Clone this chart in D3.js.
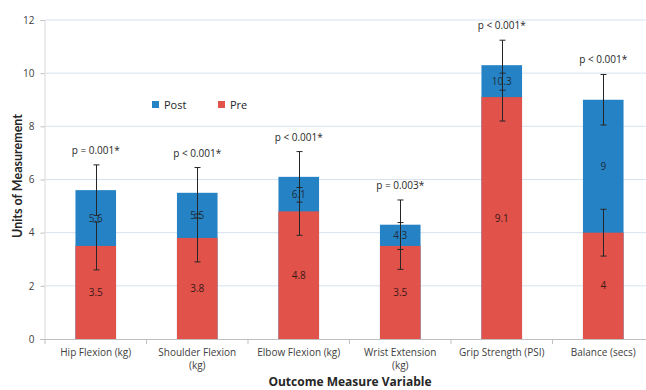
<!DOCTYPE html>
<html>
<head>
<meta charset="utf-8">
<script src="https://cdn.jsdelivr.net/npm/d3@7"></script>
<style>
  body { margin: 0; background: #fff; }
  text { font-family: "Open Sans", sans-serif; }
</style>
</head>
<body>
<div id="chart"></div>
<script>
// Chart data
const categories = ["Hip Flexion (kg)", "Shoulder Flexion (kg)", "Elbow Flexion (kg)", "Wrist Extension (kg)", "Grip Strength (PSI)", "Balance (secs)"];
const labelLines = [["Hip Flexion (kg)"], ["Shoulder Flexion", "(kg)"], ["Elbow Flexion (kg)"], ["Wrist Extension", "(kg)"], ["Grip Strength (PSI)"], ["Balance (secs)"]];
const preValues = [3.5, 3.8, 4.8, 3.5, 9.1, 4];
const postValues = [5.6, 5.5, 6.1, 4.3, 10.3, 9];
const preErrors = [0.9, 0.9, 0.9, 0.88, 0.9, 0.88];
const postErrors = [0.95, 0.95, 0.95, 0.93, 0.94, 0.95];
const pLabels = ["p = 0.001*", "p < 0.001*", "p < 0.001*", "p = 0.003*", "p < 0.001*", "p < 0.001*"];
const yTicks = [0, 2, 4, 6, 8, 10, 12];

const width = 646, height = 390;
const blue = "#2583c5", red = "#e0524a";

const svg = d3.select("#chart")
    .append("svg")
    .attr("width", width)
    .attr("height", height);

const x = d3.scaleBand()
    .domain(categories)
    .range([45, 654])
    .paddingInner(0.6)
    .paddingOuter(0.3);

const y = d3.scaleLinear()
    .domain([0, 12])
    .range([339, 20]);

// gridlines
svg.selectAll(".grid")
    .data(yTicks.filter(d => d > 0))
    .join("line")
    .attr("class", "grid")
    .attr("x1", 45)
    .attr("x2", 654)
    .attr("y1", d => y(d))
    .attr("y2", d => y(d))
    .style("stroke", "#d6e2f0")
    .style("stroke-width", 1);

// y axis
const yAxis = svg.append("g")
    .attr("transform", "translate(44.5,0)")
    .call(d3.axisLeft(y).tickValues(yTicks).tickSize(4).tickPadding(6));
yAxis.select(".domain").style("stroke", "#d9d9d9");
yAxis.selectAll(".tick line").style("stroke", "#bfbfbf");
yAxis.selectAll(".tick text")
    .style("font-size", "10px")
    .style("fill", "#404040")
    .style("font-family", "'Open Sans', sans-serif");

// x axis line and tick marks between bands
svg.append("line")
    .attr("x1", 40).attr("x2", 654)
    .attr("y1", 339.5).attr("y2", 339.5)
    .style("stroke", "#bfbfbf");

const step = x.step();
const firstEdge = Math.round(x(categories[0]) - x.paddingOuter() * step);
svg.selectAll(".xtick")
    .data(d3.range(categories.length + 1))
    .join("line")
    .attr("class", "xtick")
    .attr("x1", i => firstEdge + i * step)
    .attr("x2", i => firstEdge + i * step)
    .attr("y1", 339.5)
    .attr("y2", 344)
    .style("stroke", "#bfbfbf");

// post bars (behind), pre bars (front)
svg.selectAll(".post")
    .data(categories)
    .join("rect")
    .attr("class", "post")
    .attr("x", d => x(d))
    .attr("width", x.bandwidth())
    .attr("y", (d, i) => y(postValues[i]))
    .attr("height", (d, i) => y(0) - y(postValues[i]))
    .style("fill", blue);

svg.selectAll(".pre")
    .data(categories)
    .join("rect")
    .attr("class", "pre")
    .attr("x", d => x(d))
    .attr("width", x.bandwidth())
    .attr("y", (d, i) => y(preValues[i]))
    .attr("height", (d, i) => y(0) - y(preValues[i]))
    .style("fill", red);

// value labels
svg.selectAll(".post-label")
    .data(categories)
    .join("text")
    .attr("class", "post-label")
    .attr("x", d => x(d) + x.bandwidth() / 2)
    .attr("y", (d, i) => y((postValues[i] + preValues[i]) / 2))
    .attr("dy", "0.35em")
    .attr("text-anchor", "middle")
    .style("font-size", "10px")
    .style("fill", "#1f2d3a")
    .text((d, i) => postValues[i]);

svg.selectAll(".pre-label")
    .data(categories)
    .join("text")
    .attr("class", "pre-label")
    .attr("x", d => x(d) + x.bandwidth() / 2)
    .attr("y", (d, i) => y(preValues[i] / 2))
    .attr("dy", "0.35em")
    .attr("text-anchor", "middle")
    .style("font-size", "10px")
    .style("fill", "#3a1a18")
    .text((d, i) => preValues[i]);

// error bars
function drawErrors(values, errors, cls) {
    const g = svg.selectAll("." + cls)
        .data(categories)
        .join("g")
        .attr("class", cls)
        .attr("transform", d => `translate(${Math.round(x(d) + x.bandwidth() / 2) + 0.5},0)`);
    g.append("line")
        .attr("y1", (d, i) => y(values[i] - errors[i]))
        .attr("y2", (d, i) => y(values[i] + errors[i]))
        .style("stroke", "#262626");
    g.append("line")
        .attr("x1", -3).attr("x2", 3)
        .attr("y1", (d, i) => y(values[i] + errors[i]))
        .attr("y2", (d, i) => y(values[i] + errors[i]))
        .style("stroke", "#262626");
    g.append("line")
        .attr("x1", -3).attr("x2", 3)
        .attr("y1", (d, i) => y(values[i] - errors[i]))
        .attr("y2", (d, i) => y(values[i] - errors[i]))
        .style("stroke", "#262626");
}
drawErrors(postValues, postErrors, "post-err");
drawErrors(preValues, preErrors, "pre-err");

// p-value labels
svg.selectAll(".p-label")
    .data(categories)
    .join("text")
    .attr("class", "p-label")
    .attr("x", d => x(d) + x.bandwidth() / 2)
    .attr("y", (d, i) => y(postValues[i] + postErrors[i]) - 11)
    .attr("text-anchor", "middle")
    .style("font-size", "10px")
    .style("fill", "#262626")
    .text((d, i) => pLabels[i]);

// x labels, one text per line
const lineData = [];
categories.forEach((c, i) => labelLines[i].forEach((t, j) => lineData.push({ c, t, j })));
svg.selectAll(".x-label")
    .data(lineData)
    .join("text")
    .attr("class", "x-label")
    .attr("x", d => x(d.c) + x.bandwidth() / 2)
    .attr("y", d => 356 + d.j * 13)
    .attr("text-anchor", "middle")
    .style("font-size", "10px")
    .style("fill", "#404040")
    .text(d => d.t);

// axis titles
svg.append("text")
    .attr("x", 350)
    .attr("y", 386)
    .attr("text-anchor", "middle")
    .style("font-size", "12px")
    .style("font-weight", "bold")
    .style("fill", "#262626")
    .text("Outcome Measure Variable");

svg.append("text")
    .attr("transform", "translate(22,176) rotate(-90)")
    .attr("text-anchor", "middle")
    .style("font-family", "Lato, sans-serif")
    .style("font-size", "12.5px")
    .style("font-weight", "bold")
    .style("fill", "#262626")
    .text("Units of Measurement");

// legend
const legend = [{ name: "Post", color: blue, x: 152 }, { name: "Pre", color: red, x: 218 }];
const lg = svg.selectAll(".legend")
    .data(legend)
    .join("g")
    .attr("class", "legend")
    .attr("transform", d => `translate(${d.x},101)`);
lg.append("rect")
    .attr("width", 7).attr("height", 7)
    .style("fill", d => d.color);
lg.append("text")
    .attr("x", 12)
    .attr("y", 7.5)
    .style("font-size", "11px")
    .style("fill", "#262626")
    .text(d => d.name);
</script>
</body>
</html>
